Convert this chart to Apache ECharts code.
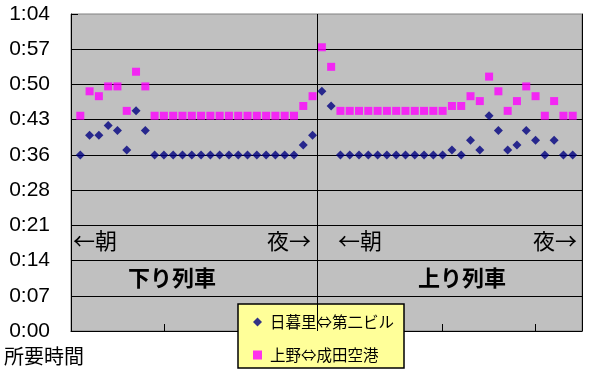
<!DOCTYPE html>
<html><head><meta charset="utf-8">
<script src="https://cdn.jsdelivr.net/npm/echarts@6/dist/echarts.min.js"></script>
<style>html,body{margin:0;padding:0;background:#fff}#c{width:594px;height:374px}</style>
</head><body><div id="c"></div>
<script>
// Series names (legend)
const seriesNames = ['日暮里⇔第二ビル', '上野⇔成田空港'];
// 下り列車 (down trains), minutes
const downNippori = [36,40,40,42,41,37,45,41,36,36,36,36,36,36,36,36,36,36,36,36,36,36,36,36,38,40];
const downUeno    = [44,49,48,50,50,45,53,50,44,44,44,44,44,44,44,44,44,44,44,44,44,44,44,44,46,48];
// 上り列車 (up trains), minutes
const upNippori = [49,46,36,36,36,36,36,36,36,36,36,36,36,36,37,36,39,37,44,41,37,38,41,39,36,39,36,36];
const upUeno    = [58,54,45,45,45,45,45,45,45,45,45,45,45,45,46,46,48,47,52,49,45,47,50,48,44,47,44,44];
// axis ranges (minutes / train index)
const yMin = 0, yMax = 64.8, yInterval = 7.2;
const xMin = 0, xMax = 55, xInterval = 10;
// annotation texts
const morningText = '←朝', nightText = '夜→';
const downLabel = '下り列車', upLabel = '上り列車';
const yAxisTitle = '所要時間';

function toPoints(down, up) {
  const a = down.map((v, i) => [i + 1, v]);
  const b = up.map((v, i) => [down.length + 1 + i, v]);
  return a.concat(b);
}
function fmt(v) {
  const m = Math.floor(v + 1e-6);
  const h = Math.floor(m / 60), mm = m % 60;
  return h + ':' + (mm < 10 ? '0' : '') + mm;
}

const chart = echarts.init(document.getElementById('c'), null, {renderer: 'canvas'});
const cjk = '"Noto Sans CJK JP", sans-serif';
chart.setOption({
  animation: false,
  grid: {left: 71, top: 14, right: 12, bottom: 43, show: true,
         backgroundColor: '#C0C0C0', borderColor: '#808080', borderWidth: 1},
  xAxis: {type: 'value', min: xMin, max: xMax, interval: xInterval,
    axisLine: {show: true, onZero: false, lineStyle: {color: '#000', width: 1}},
    axisTick: {show: true, inside: true, length: 7, lineStyle: {color: '#000'}},
    axisLabel: {show: false}, splitLine: {show: false}},
  yAxis: [{type: 'value', min: yMin, max: yMax, interval: yInterval,
    axisLine: {show: true, lineStyle: {color: '#000', width: 1}},
    axisTick: {show: true, inside: true, length: 7, lineStyle: {color: '#000'}},
    axisLabel: {formatter: fmt, color: '#000', fontSize: 21,
                fontFamily: '"Liberation Sans", Arial, sans-serif', margin: 21},
    splitLine: {show: true, showMaxLine: false, lineStyle: {color: '#000', width: 1}}},
   {type: 'value', position: 'right', min: yMin, max: yMax, interval: yInterval,
    axisLine: {show: true, lineStyle: {color: '#000', width: 1}},
    axisTick: {show: false}, axisLabel: {show: false}, splitLine: {show: false}}],
  legend: {show: true, left: 238, top: 304, orient: 'vertical',
    backgroundColor: '#FFFF99', borderColor: '#000', borderWidth: 1.5,
    padding: [9, 10, 4, 15], itemWidth: 9, itemHeight: 9, itemGap: 15,
    selectedMode: false,
    textStyle: {fontSize: 15.5, fontFamily: cjk, color: '#000', lineHeight: 18, padding: [0, 0, 0, 3]},
    data: [{name: seriesNames[0], icon: 'diamond'}, {name: seriesNames[1], icon: 'rect'}]},
  series: [
    {type: 'scatter', name: seriesNames[0], symbol: 'diamond', symbolSize: 9,
     itemStyle: {color: '#000080'}, data: toPoints(downNippori, upNippori),
     markLine: {silent: true, symbol: 'none', label: {show: false},
       lineStyle: {color: '#000', width: 1, type: 'solid'},
       data: [{xAxis: downNippori.length + 0.5}]}},
    {type: 'scatter', name: seriesNames[1], symbol: 'rect', symbolSize: 8,
     itemStyle: {color: '#FF00FF'}, data: toPoints(downUeno, upUeno)}
  ],
  graphic: [
    {type: 'text', x: 73, y: 241, z: 50, style: {text: morningText, font: '22px ' + cjk, fill: '#000', align: 'left', verticalAlign: 'middle'}},
    {type: 'text', x: 311, y: 241, z: 50, style: {text: nightText, font: '22px ' + cjk, fill: '#000', align: 'right', verticalAlign: 'middle'}},
    {type: 'text', x: 338, y: 241, z: 50, style: {text: morningText, font: '22px ' + cjk, fill: '#000', align: 'left', verticalAlign: 'middle'}},
    {type: 'text', x: 577, y: 241, z: 50, style: {text: nightText, font: '22px ' + cjk, fill: '#000', align: 'right', verticalAlign: 'middle'}},
    {type: 'text', x: 172, y: 278, z: 50, style: {text: downLabel, font: 'bold 22px ' + cjk, fill: '#000', align: 'center', verticalAlign: 'middle'}},
    {type: 'text', x: 462, y: 278, z: 50, style: {text: upLabel, font: 'bold 22px ' + cjk, fill: '#000', align: 'center', verticalAlign: 'middle'}},
    {type: 'text', x: 4, y: 356, z: 50, style: {text: yAxisTitle, font: '20px ' + cjk, fill: '#000', align: 'left', verticalAlign: 'middle'}}
  ]
});
</script>
</body></html>
